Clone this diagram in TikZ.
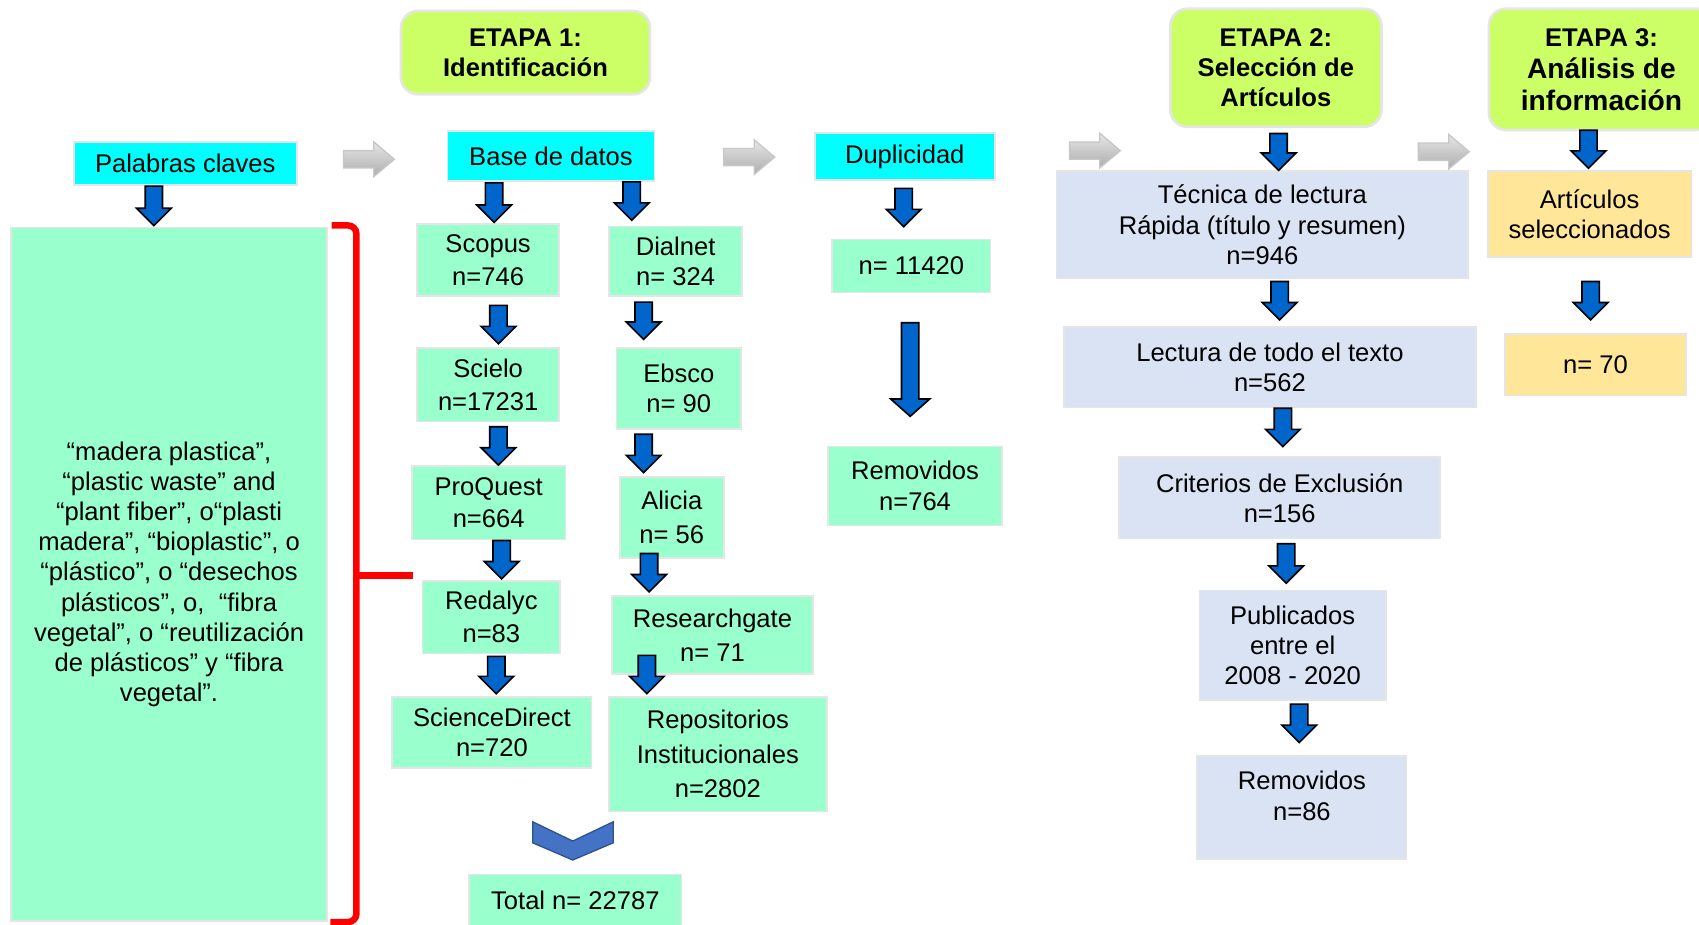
\documentclass[tikz,border=0pt]{standalone}
\usepackage{fontspec}
\setmainfont{Liberation Sans}
\usetikzlibrary{calc}

\definecolor{boxcyan}{HTML}{00FFFF}
\definecolor{boxmint}{HTML}{99FFCC}
\definecolor{boxblue}{HTML}{DAE3F3}
\definecolor{boxyellow}{HTML}{FFE699}
\definecolor{stagegreen}{HTML}{CCFF66}
\definecolor{arrowblue}{HTML}{0066CC}
\definecolor{chevronblue}{HTML}{4472C4}
\definecolor{chevronedge}{HTML}{2F528F}

\tikzset{
  box/.style={rectangle, draw=black!10, line width=0.8pt, align=center, inner sep=0pt,
    font=\fontsize{11.8}{14}\selectfont},
  cyanbox/.style={box, fill=boxcyan},
  mintbox/.style={box, fill=boxmint, font=\fontsize{11.8}{15}\selectfont},
  bluebox/.style={box, fill=boxblue},
  yellowbox/.style={box, fill=boxyellow},
  stagebox/.style={box, fill=stagegreen, line width=1.2pt, rounded corners=8pt,
    font=\bfseries\fontsize{11.8}{13.7}\selectfont},
  downarrow/.style 2 args={draw=black, fill=arrowblue, line width=0.75pt,
    to path={let \p1=(\tikztostart), \p2=(\tikztotarget) in
      (\x1-4pt,\y1) -- (\x1+4pt,\y1) -- (\x1+4pt,\y2+#2) -- (\x1+#1,\y2+#2)
      -- (\x1,\y2) -- (\x1-#1,\y2+#2) -- (\x1-4pt,\y2+#2) -- cycle}},
  blockarrow/.style={downarrow={8pt}{8pt}},
  longarrow/.style={downarrow={9pt}{8pt}},
  grayarrow/.pic={
    \shade[draw=black!22, line width=0.6pt, top color=black!10, bottom color=black!32]
      (-23.5,-8) -- (4.5,-8) -- (4.5,-16) -- (23.5,0) -- (4.5,16) -- (4.5,8)
      -- (-23.5,8) -- cycle;
  },
  bracket/.style={red, line width=3pt, rounded corners=4pt}
}

\begin{document}
\begin{tikzpicture}[x=0.5pt, y=-0.5pt]
  \useasboundingbox (0,0) rectangle (1568,853);
  \clip (0,0) rectangle (1568,853);

  % stages
  \node[stagebox, minimum width=115pt, minimum height=38.5pt] (etapa1) at (485,48.5)
    {ETAPA 1:\\Identificación};
  \node[stagebox, minimum width=97.5pt, minimum height=54.5pt] (etapa2) at (1177.5,62.5)
    {ETAPA 2:\\Selección de\\Artículos};
  \node[stagebox, minimum width=104pt, minimum height=56pt, font=\bfseries\fontsize{13}{14.7}\selectfont] (etapa3) at (1478,64)
    {{\fontsize{11.8}{14}\selectfont ETAPA 3:}\\Análisis de\\información};

  % column 1
  \node[cyanbox, minimum width=103pt, minimum height=20pt] (palabras) at (171,151) {Palabras claves};
  \node[mintbox, minimum width=146pt, minimum height=320pt, font=\fontsize{11.8}{13.9}\selectfont] (keywords) at (156,530)
    {“madera plastica”,\\“plastic waste” and\\“plant fiber”, o“plasti\\madera”, “bioplastic”, o\\“plástico”, o “desechos\\plásticos”, o,\ \ “fibra\\vegetal”, o “reutilización\\de plásticos” y “fibra\\vegetal”.};

  % databases
  \node[cyanbox, minimum width=95.5pt, minimum height=23pt] (base) at (508.5,144) {Base de datos};
  \node[mintbox, minimum width=65.5pt, minimum height=33pt] (scopus) at (450.5,240) {Scopus\\n=746};
  \node[mintbox, minimum width=65.5pt, minimum height=34pt] (scielo) at (450.5,355) {Scielo\\n=17231};
  \node[mintbox, minimum width=71pt, minimum height=34pt] (proquest) at (451,464) {ProQuest\\n=664};
  \node[mintbox, minimum width=63.5pt, minimum height=33.5pt] (redalyc) at (453.5,569.5) {Redalyc\\n=83};
  \node[mintbox, minimum width=92pt, minimum height=33pt, font=\fontsize{11.8}{14}\selectfont] (sciencedirect) at (454,676) {ScienceDirect\\n=720};
  \node[mintbox, minimum width=61.5pt, minimum height=32pt, font=\fontsize{11.8}{14}\selectfont] (dialnet) at (623.5,241) {Dialnet\\n= 324};
  \node[mintbox, minimum width=57.5pt, minimum height=37.5pt, font=\fontsize{11.8}{14}\selectfont] (ebsco) at (626.5,358.5) {Ebsco\\n= 90};
  \node[mintbox, minimum width=48pt, minimum height=37.5pt, font=\fontsize{11.8}{16}\selectfont] (alicia) at (620,477.5) {Alicia\\n= 56};
  \node[mintbox, minimum width=92.5pt, minimum height=36pt, font=\fontsize{11.8}{15.5}\selectfont] (researchgate) at (657.5,586) {Researchgate\\n= 71};
  \node[mintbox, minimum width=100.5pt, minimum height=53pt, font=\fontsize{11.8}{16}\selectfont] (repositorios) at (662.5,696) {Repositorios\\Institucionales\\n=2802};
  \node[mintbox, minimum width=98pt, minimum height=24pt] (total) at (531,831) {Total n= 22787};

  % duplicates
  \node[cyanbox, minimum width=83pt, minimum height=21.5pt] (duplicidad) at (835,144.5) {Duplicidad};
  \node[mintbox, minimum width=73pt, minimum height=24.5pt] (n11420) at (841,245.5) {n= 11420};
  \node[mintbox, minimum width=80.5pt, minimum height=36.5pt, font=\fontsize{11.8}{14}\selectfont] (removed1) at (844.5,448.5) {Removidos\\n=764};

  % selection
  \node[bluebox, minimum width=190pt, minimum height=49.5pt] (tecnica) at (1165,207.5) {Técnica de lectura\\Rápida (título y resumen)\\n=946};
  \node[bluebox, minimum width=190pt, minimum height=37pt] (lectura) at (1172,339) {Lectura de todo el texto\\n=562};
  \node[bluebox, minimum width=148pt, minimum height=37.5pt] (criterios) at (1181,459.5) {Criterios de Exclusión\\n=156};
  \node[bluebox, minimum width=86pt, minimum height=50.5pt] (publicados) at (1193,595.5) {Publicados\\entre el\\2008 - 2020};
  \node[bluebox, minimum width=96.5pt, minimum height=47.5pt] (removed2) at (1201.5,745.5) {Removidos\\n=86\\[-3pt]\mbox{}};

  % analysis
  \node[yellowbox, minimum width=94pt, minimum height=39.5pt] (articulos) at (1467,197.5) {Artículos\\seleccionados};
  \node[yellowbox, minimum width=83.5pt, minimum height=28.5pt] (n70) at (1472.5,336.5) {n= 70};

  % gray arrows
  \pic at (340.5,147) {grayarrow};
  \pic at (691.5,145) {grayarrow};
  \pic at (1010.5,139) {grayarrow};
  \pic at (1332.5,140) {grayarrow};

  % blue arrows
  \draw[blockarrow] ([xshift=-14.5pt]palabras.south) to ([yshift=0.5pt]keywords.north);
  \draw[blockarrow] ([xshift=-26.25pt,yshift=-0.5pt]base.south) to ([yshift=0.5pt]scopus.north);
  \draw[blockarrow] ([xshift=37.25pt]base.south) to ([yshift=2.5pt]dialnet.north);
  \draw[blockarrow] ([xshift=4.75pt,yshift=-4pt]scopus.south) to ([yshift=1.5pt]scielo.north);
  \draw[blockarrow] ([xshift=-14.75pt,yshift=-2.5pt]dialnet.south) to ([yshift=3.5pt]ebsco.north);
  \draw[blockarrow] ([xshift=4.75pt,yshift=-2pt]scielo.south) to (proquest.north);
  \draw[blockarrow] ([xshift=-16.25pt,yshift=-2pt]ebsco.south) to ([yshift=1.5pt]alicia.north);
  \draw[blockarrow] ([xshift=6pt]proquest.south) to ([yshift=0.5pt]redalyc.north);
  \draw[blockarrow] ([xshift=-10.5pt,yshift=2.5pt]alicia.south) to ([yshift=1.5pt]researchgate.north);
  \draw[blockarrow] ([xshift=2.25pt,yshift=-1pt]redalyc.south) to ([yshift=1pt]sciencedirect.north);
  \draw[blockarrow] ([xshift=-30.25pt,yshift=9pt]researchgate.south) to ([yshift=1pt]repositorios.north);
  \draw[blockarrow] ([xshift=-0.5pt,yshift=-3.5pt]duplicidad.south) to ([yshift=5.5pt]n11420.north);
  \draw[longarrow] ([xshift=-0.5pt,yshift=-13.5pt]n11420.south) to ([yshift=13.5pt]removed1.north);
  \draw[blockarrow] ([xshift=1.25pt,yshift=-2.5pt]etapa2.south) to (tecnica.north);
  \draw[blockarrow] ([xshift=8pt,yshift=-1pt]tecnica.south) to ([yshift=3pt]lectura.north);
  \draw[blockarrow] ([xshift=6pt]lectura.south) to ([yshift=4.5pt]criterios.north);
  \draw[blockarrow] ([xshift=3pt,yshift=-2pt]criterios.south) to ([yshift=3pt]publicados.north);
  \draw[blockarrow] ([xshift=3pt,yshift=-1.5pt]publicados.south) to ([yshift=6pt]removed2.north);
  \draw[blockarrow] ([xshift=-6pt,yshift=0.5pt]etapa3.south) to ([yshift=1pt]articulos.north);
  \draw[blockarrow] ([xshift=0.5pt,yshift=-11pt]articulos.south) to ([yshift=6pt]n70.north);

  % chevron to total
  \filldraw[fill=chevronblue, draw=chevronedge, line width=0.6pt]
    (491.6,758.4) -- (528.6,776.2) -- (566,758.4) -- (566,777.8)
    -- (528.6,793.7) -- (491.6,777.8) -- cycle;

  % bracket
  \draw[bracket] (306,208) -- (329,208) -- (329,851) -- (305,851);
  \draw[bracket] (329,531) -- (381,531);
\end{tikzpicture}
\end{document}
